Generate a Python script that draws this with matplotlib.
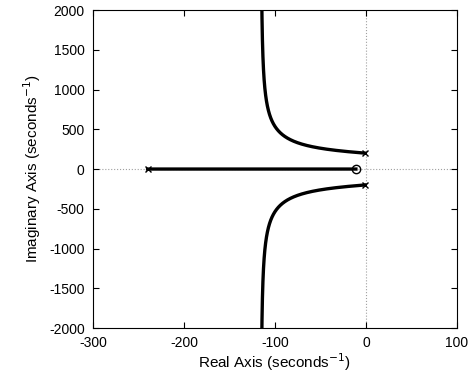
"""Root locus figure recreated with matplotlib."""

import matplotlib
import matplotlib.pyplot as plt
import numpy as np

matplotlib.use("Agg")

# open-loop poles and zeros (seconds^-1)
poles = [complex(-240, 0), complex(-1, 200), complex(-1, -200)]
zeros = [complex(-11, 0)]
xticks = [-300, -200, -100, 0, 100]
yticks = [-2000, -1500, -1000, -500, 0, 500, 1000, 1500, 2000]

plt.rcParams["font.family"] = ["Liberation Sans", "DejaVu Sans"]
plt.rcParams["axes.unicode_minus"] = False

# closed-loop roots of den(s) + K num(s) = 0 over a gain sweep
num = np.poly(zeros).real
den = np.poly(poles).real
padded = np.zeros(len(den))
padded[len(den) - len(num):] = num
gains = np.concatenate([[0.0], np.logspace(-2, 9, 4000)])
branches = []
prev = np.roots(den)
for k in gains:
    left = list(np.roots(den + k * padded))
    # keep branch ordering by nearest match
    ordered = []
    for q in prev:
        i = int(np.argmin([abs(q - c) for c in left]))
        ordered.append(left.pop(i))
    prev = np.array(ordered)
    branches.append(prev)
branches = np.array(branches)

fig = plt.figure(figsize=(4.71, 3.73), dpi=100)
ax = fig.add_axes([0.1975, 0.1206, 0.7725, 0.8524])

ax.axhline(0, color="#a0a0a0", linestyle=":", linewidth=0.8, zorder=1)
ax.axvline(0, color="#a0a0a0", linestyle=":", linewidth=0.8, zorder=1)

for j in range(branches.shape[1]):
    ax.plot(branches[:, j].real, branches[:, j].imag, color="black",
            linewidth=2.4, zorder=2)

ax.plot([p.real for p in poles], [p.imag for p in poles], "x", color="black",
        markersize=5, markeredgewidth=1.0, zorder=3)
ax.plot([z.real for z in zeros], [z.imag for z in zeros], "o", color="black",
        markerfacecolor="none", markersize=6, markeredgewidth=1.0, zorder=3)

ax.set_xlim(-300, 100)
ax.set_ylim(-2000, 2000)
ax.set_xticks(xticks)
ax.set_yticks(yticks)
ax.tick_params(direction="in", top=True, right=True, length=4, labelsize=10,
               pad=6)
ax.set_xlabel("Real Axis (seconds$^{-1}$)", fontsize=11, labelpad=1)
ax.set_ylabel("Imaginary Axis (seconds$^{-1}$)", fontsize=11, labelpad=4)

fig.savefig("out.png", dpi=100)
